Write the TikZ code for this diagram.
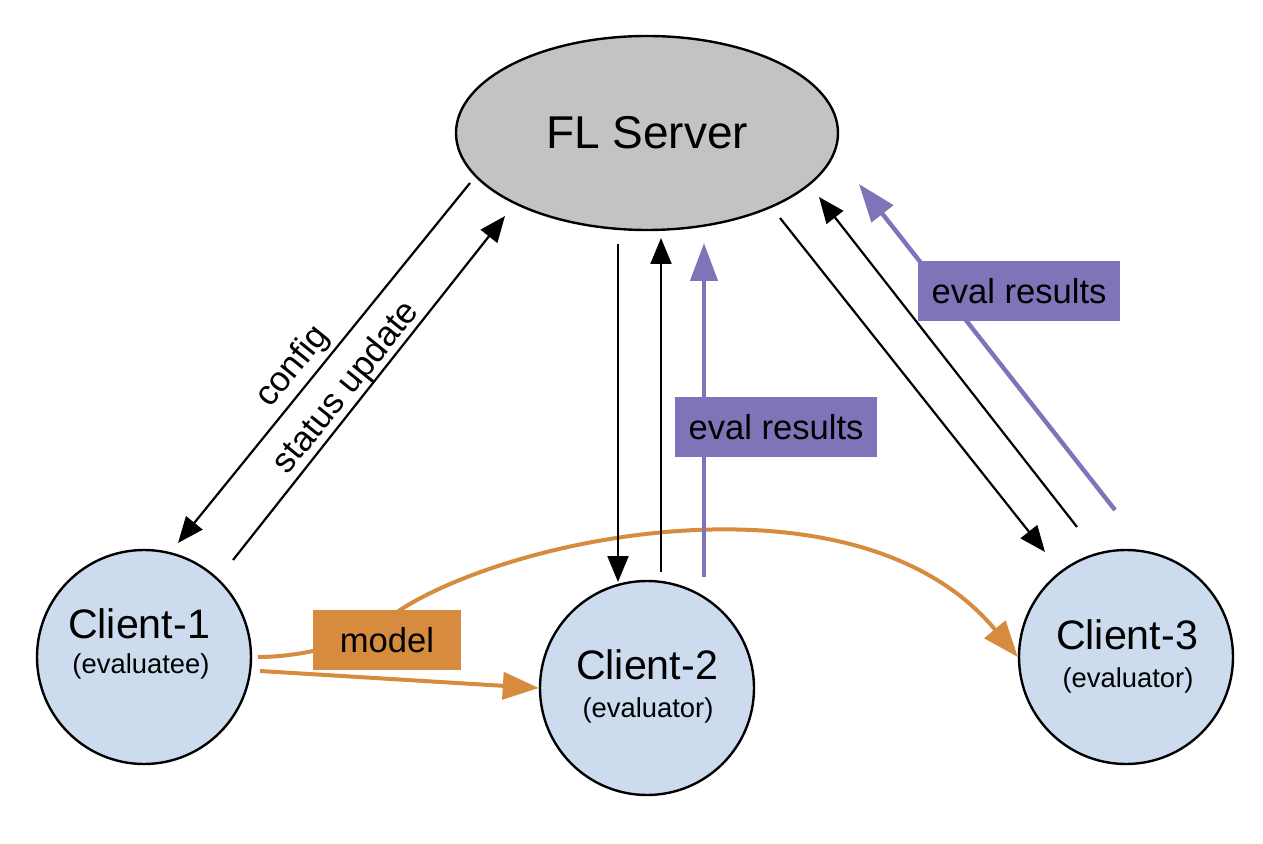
\documentclass[tikz,border=0pt]{standalone}
\usepackage{fontspec}
\setmainfont{Liberation Sans}
\usetikzlibrary{arrows.meta,shapes.geometric}
\definecolor{srvgray}{RGB}{195,195,195}
\definecolor{cliblue}{RGB}{204,220,238}
\definecolor{evpurple}{RGB}{128,115,184}
\definecolor{mdorange}{RGB}{214,139,62}
\begin{document}
\begin{tikzpicture}[x=0.5pt,y=-0.5pt,
  servernode/.style={ellipse,draw=black,line width=1.2pt,fill=srvgray,minimum width=191pt,minimum height=97pt,inner sep=0pt,font=\fontsize{23}{27}\selectfont},
  clientnode/.style={circle,draw=black,line width=1.2pt,fill=cliblue,minimum size=107pt,inner sep=0pt},
  ctitle/.style={anchor=base,inner sep=0pt,font=\fontsize{20.6}{24}\selectfont},
  crole/.style={anchor=base,inner sep=0pt,font=\fontsize{13.7}{16}\selectfont},
  blk/.style={draw=black,line width=1.1pt,-{Triangle[length=13pt,width=10.5pt]}},
  blkline/.style={draw=black,line width=1.1pt},
  purp/.style={draw=evpurple,line width=2.2pt,-{Triangle[length=19pt,width=13.5pt]}},
  orng/.style={draw=mdorange,line width=2pt,-{Triangle[length=18pt,width=13.5pt]}},
  evbox/.style={fill=evpurple,minimum width=101pt,minimum height=30pt,inner sep=0pt,font=\fontsize{17.3}{20}\selectfont},
  mdbox/.style={fill=mdorange,minimum width=74pt,minimum height=30pt,inner sep=0pt,font=\fontsize{17.3}{20}\selectfont},
  linelabel/.style={inner sep=0pt,rotate=51,font=\fontsize{17.5}{20}\selectfont}]
\useasboundingbox (0,0) rectangle (1263,844);

% nodes
\node[servernode] (srv) at (647,133) {FL Server};
\node[clientnode] (c1) at (144,657) {};
\node[clientnode] (c2) at (647,688) {};
\node[clientnode] (c3) at (1126,657) {};
\node[ctitle] (c1t) at (139,638) {Client-1};
\node[crole]  (c1s) at (141,673) {(evaluatee)};
\node[ctitle] (c2t) at (647,679) {Client-2};
\node[crole]  (c2s) at (648,717) {(evaluator)};
\node[ctitle] (c3t) at (1127,649) {Client-3};
\node[crole]  (c3s) at (1128,687) {(evaluator)};

% connector end points
\coordinate (cfgA) at (470,183);
\coordinate (cfgB) at (178,543);
\coordinate (stA) at (233,560);
\coordinate (stB) at (505,216);
\coordinate (dnA) at (618,244);
\coordinate (dnB) at (618,582);
\coordinate (upA) at (661,572);
\coordinate (upB) at (661,238);
\coordinate (pvA) at (704,577);
\coordinate (pvB) at (704,243);
\coordinate (rdA) at (780,218);
\coordinate (rdB) at (1045,552);
\coordinate (ruA) at (1077,527);
\coordinate (ruB) at (819,197);
\coordinate (rpA) at (1115,510);
\coordinate (rpB) at (859,184);
\coordinate (orA) at (260,671);
\coordinate (ocA) at (258,657);
\coordinate (ocM) at (380,625);

% orange model arrows
\draw[orng] (orA) -- (c2.west);
\draw[orng] (ocA) .. controls (300,657) and (350,645) .. (ocM)
  .. controls (470,545) and (850,455) .. (c3.west);

% black arrows
\draw[blk] (cfgA) -- (cfgB);
\draw[blk] (stA) -- (stB);
\draw[blk] (dnA) -- (dnB);
\draw[blk] (upA) -- (upB);
\draw[blk] (rdA) -- (rdB);
\draw[blk] (ruA) -- (ruB);

% purple arrows
\draw[purp] (pvA) -- (pvB);
\draw[purp] (rpA) -- (rpB);

% labels
\node[linelabel] (cfg) at (293,367) {config};
\node[linelabel] (stu) at (347,388) {status update};
\node[evbox] (ev1) at (776,427) {eval results};
\node[evbox] (ev2) at (1019,291) {eval results};
\node[mdbox] (mdl) at (387,640) {model};
\end{tikzpicture}
\end{document}
